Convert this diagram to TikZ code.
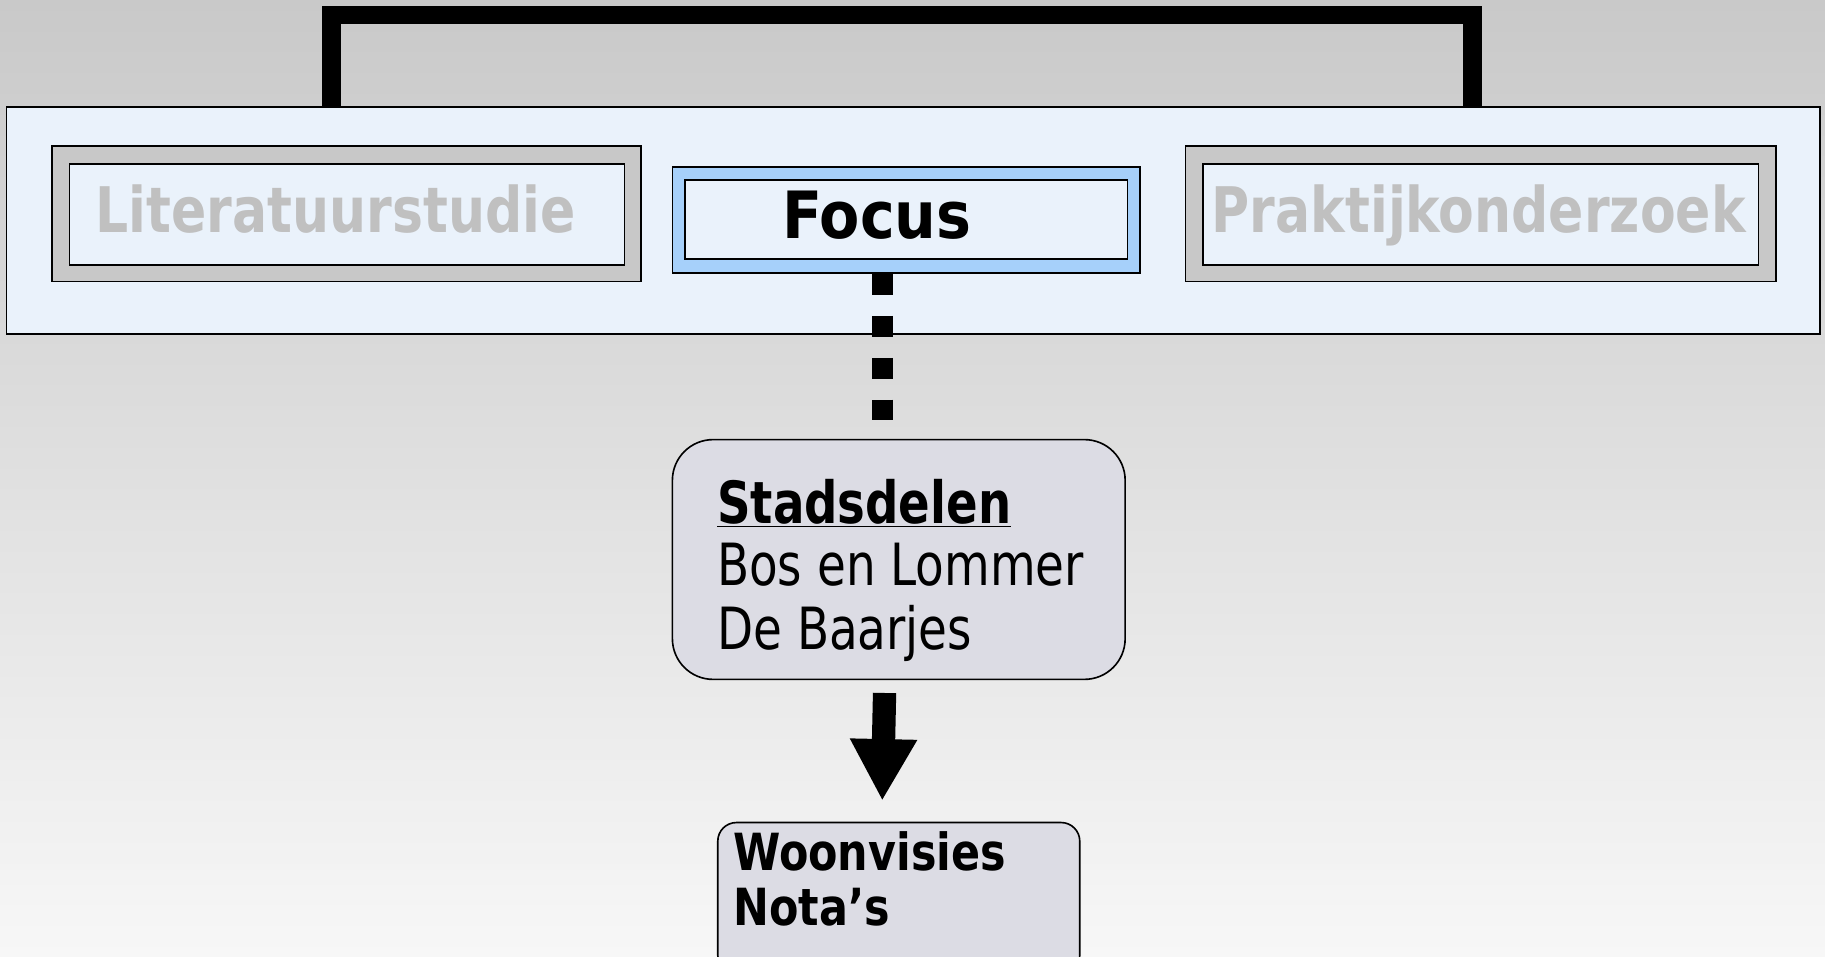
\documentclass[tikz,border=0pt]{standalone}
\usepackage{fontspec}
\setmainfont{DejaVu Sans Condensed}
\newfontfamily\headfam[FakeStretch=0.92]{DejaVu Sans Condensed}
\newfontfamily\stadfam[FakeStretch=0.89]{DejaVu Sans Condensed}
\newfontfamily\bodyfam[FakeStretch=0.895]{DejaVu Sans Condensed}
\newfontfamily\woonfam[FakeStretch=0.93]{DejaVu Sans Condensed}
\usetikzlibrary{arrows.meta,calc}
\definecolor{paneblue}{HTML}{EAF2FB}
\definecolor{ringgray}{HTML}{C8C8C8}
\definecolor{ringblue}{HTML}{A6D0FA}
\definecolor{fadedtext}{HTML}{C0C0C0}
\definecolor{cardfill}{HTML}{DCDCE4}
\definecolor{bgtop}{HTML}{C9C9C9}
\definecolor{bgbottom}{HTML}{F7F7F7}
\tikzset{
  outerbox/.style={draw=black, line width=1.4pt, inner sep=0pt, anchor=north west},
  innerbox/.style={draw=black, line width=1.4pt, fill=paneblue, inner sep=0pt, anchor=north west},
  card/.style={draw=black, line width=1.4pt, fill=cardfill, inner sep=0pt, anchor=north west},
  txt/.style={inner sep=0pt, anchor=base west},
  headfont/.style={font=\fontsize{54}{60}\headfam\bfseries},
  bodyfont/.style={font=\fontsize{50}{55}\bodyfam},
  woonfont/.style={font=\fontsize{44}{48}\woonfam\bfseries},
}
\begin{document}
\begin{tikzpicture}[x=1pt, y=-1pt]
  % page and background gradient
  \useasboundingbox (0,0) rectangle (1568,822);
  \shade[top color=bgtop, bottom color=bgbottom] (0,0) rectangle (1568,822);

  % main panel
  \node[outerbox, fill=paneblue, minimum width=1558pt, minimum height=195pt] (panel) at (5,91) {};

  % bracket joining the two side studies
  \coordinate (bl) at (285,91);
  \coordinate (br) at (1265,91);
  \draw[line width=16pt, line join=miter] (bl) -- (285,13) -- (1265,13) -- (br);

  % Literatuurstudie
  \node[outerbox, fill=ringgray, minimum width=506pt, minimum height=116pt] (litO) at (44,125) {};
  \node[innerbox, minimum width=477pt, minimum height=87pt] (litI) at (59,140) {};
  \node[txt, headfont, text=fadedtext] (litT) at (82,200) {Literatuurstudie};

  % Focus
  \node[outerbox, fill=ringblue, minimum width=402pt, minimum height=91pt] (focO) at (577,143) {};
  \node[innerbox, minimum width=380pt, minimum height=68pt] (focI) at (588,154) {};
  \node[txt, font=\fontsize{56}{60}\selectfont\bfseries] (focT) at (672,205) {Focus};

  % Praktijkonderzoek
  \node[outerbox, fill=ringgray, minimum width=507pt, minimum height=116pt] (prkO) at (1018,125) {};
  \node[innerbox, minimum width=477pt, minimum height=87pt] (prkI) at (1033,140) {};
  \node[txt, headfont, text=fadedtext] (prkT) at (1041,200) {Praktijkonderzoek};

  % Stadsdelen card
  \node[card, rounded corners=35pt, minimum width=389pt, minimum height=206pt] (stad) at (577,377) {};
  \node[txt, font=\fontsize{50}{55}\stadfam\bfseries] (s1) at (616,450) {\underline{Stadsdelen}};
  \node[txt, bodyfont] (s2) at (616,503) {Bos en Lommer};
  \node[txt, bodyfont] (s3) at (616,558) {De Baarjes};

  % Woonvisies card
  \node[card, rounded corners=16pt, minimum width=311pt, minimum height=130pt] (woon) at (616,706) {};
  \node[txt, woonfont] (w1) at (630,748) {Woonvisies};
  \node[txt, woonfont] (w2) at (630,795) {Nota’s};

  % connectors
  \coordinate (dotx) at (758,0);
  \coordinate (arrx) at (760,0);
  \draw[line width=18pt, dash pattern=on 18pt off 18pt]
    (focO.south -| dotx) -- ($(stad.north -| dotx) + (0,-16)$);
  \draw[line width=20pt, -{Triangle[length=53pt, width=54pt]}]
    ($(stad.south -| arrx) + (0,11)$) -- ($(woon.north -| dotx) + (0,-18)$);
\end{tikzpicture}
\end{document}
